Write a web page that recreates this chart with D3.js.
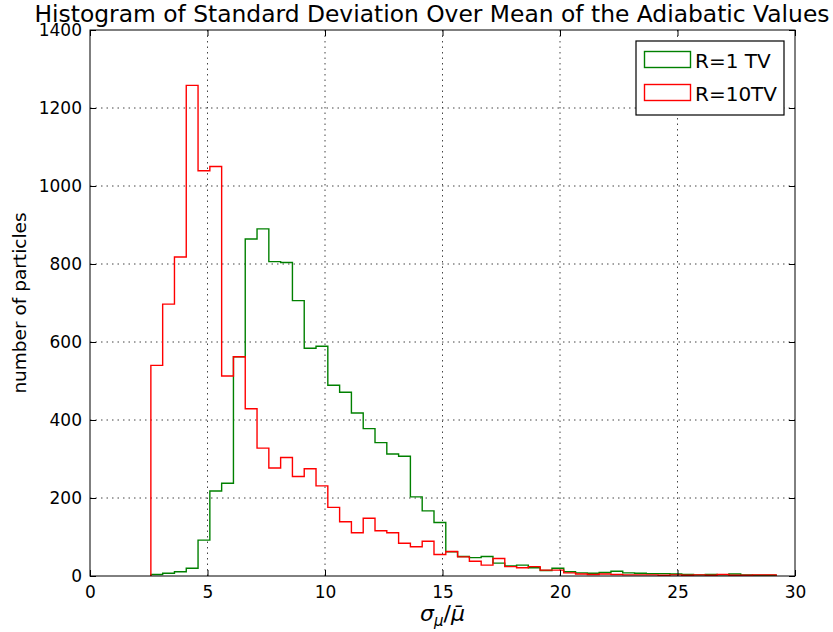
<!DOCTYPE html>
<html>
<head>
<meta charset="utf-8">
<script src="https://cdn.jsdelivr.net/npm/d3@7"></script>
<style>
  body { margin: 0; background: #fff; }
  text { font-family: "DejaVu Sans", sans-serif; }
</style>
</head>
<body>
<div id="chart"></div>
<script>
// histogram bins: left edge of first bin and bin width
const binStart = 2.59
const binWidth = 0.502

// counts per bin, R=1 TV (green)
const countsR1 = [4, 7, 11, 20, 92, 218, 238, 562, 864, 890, 806, 804, 706, 584, 589,
  489, 471, 418, 378, 342, 313, 307, 203, 167, 137, 62, 50, 47, 50, 33, 26, 28, 21, 14,
  20, 11, 8, 7, 9, 12, 8, 7, 6, 6, 5, 4, 3, 4, 3, 5, 3, 2, 2]

// counts per bin, R=10TV (red)
const countsR10 = [540, 697, 818, 1258, 1039, 1050, 513, 562, 429, 328, 277, 304, 255,
  275, 231, 176, 139, 111, 148, 116, 111, 84, 75, 89, 55, 63, 49, 38, 28, 45, 24, 21, 24,
  15, 15, 8, 5, 4, 5, 4, 3, 3, 3, 2, 3, 2, 3, 2, 4, 2, 2, 3, 3]

const seriesNames = ['R=1 TV', 'R=10TV']
const seriesColors = ['#008000', '#ff0000']

const xTicks = [0, 5, 10, 15, 20, 25, 30]
const yTicks = [0, 200, 400, 600, 800, 1000, 1200, 1400]

const margin = { top: 30, right: 38, bottom: 56, left: 90 }
const width = 833 - margin.left - margin.right
const height = 632 - margin.top - margin.bottom

const svg = d3.select('#chart')
  .append('svg')
  .attr('width', 833)
  .attr('height', 632)

const g = svg.append('g')
  .attr('transform', 'translate(' + margin.left + ',' + margin.top + ')')

const x = d3.scaleLinear().domain([0, 30]).range([0, width])
const y = d3.scaleLinear().domain([0, 1400]).range([height, 0])

// grid lines (dotted)
g.append('g')
  .selectAll('line')
  .data(xTicks.slice(1, -1))
  .join('line')
  .attr('x1', d => x(d)).attr('x2', d => x(d))
  .attr('y1', 0).attr('y2', height)
  .attr('stroke', '#444')
  .attr('stroke-dasharray', '1.5,4')

g.append('g')
  .selectAll('line')
  .data(yTicks.slice(1, -1))
  .join('line')
  .attr('y1', d => y(d)).attr('y2', d => y(d))
  .attr('x1', 0).attr('x2', width)
  .attr('stroke', '#444')
  .attr('stroke-dasharray', '1.5,4')

// step outlines
function stepPoints(counts) {
  const pts = [[binStart, 0]]
  counts.forEach((c, i) => {
    const x0 = binStart + i * binWidth
    pts.push([x0, c])
    pts.push([x0 + binWidth, c])
  })
  pts.push([binStart + counts.length * binWidth, 0])
  return pts
}

const line = d3.line().x(d => x(d[0])).y(d => y(d[1]))

;[countsR1, countsR10].forEach((counts, i) => {
  g.append('path')
    .datum(stepPoints(counts))
    .attr('d', line)
    .attr('fill', 'none')
    .attr('stroke', seriesColors[i])
    .attr('stroke-width', 1.4)
    .attr('stroke-linejoin', 'miter')
})

// axes with inward ticks, labels only on bottom/left
const xAxis = d3.axisBottom(x).tickValues(xTicks).tickSize(-6).tickPadding(10)
const yAxis = d3.axisLeft(y).tickValues(yTicks).tickSize(-6).tickPadding(8)
  .tickFormat(d3.format('d'))

g.append('g')
  .attr('class', 'axis x-axis')
  .attr('transform', 'translate(0,' + height + ')')
  .call(xAxis)

g.append('g')
  .attr('class', 'axis y-axis')
  .call(yAxis)

g.append('g')
  .call(d3.axisTop(x).tickValues(xTicks).tickSize(-6).tickFormat(''))

g.append('g')
  .attr('transform', 'translate(' + width + ',0)')
  .call(d3.axisRight(y).tickValues(yTicks).tickSize(-6).tickFormat(''))

g.selectAll('.domain').remove()
g.selectAll('.tick line').attr('stroke', '#000')
g.selectAll('.tick text')
  .attr('fill', '#000')
  .attr('font-size', 17)
  .attr('font-family', 'DejaVu Sans')

// frame
g.append('rect')
  .attr('width', width)
  .attr('height', height)
  .attr('fill', 'none')
  .attr('stroke', '#000')
  .attr('stroke-width', 1)

// title
svg.append('text')
  .attr('x', 432)
  .attr('y', 22)
  .attr('text-anchor', 'middle')
  .attr('font-size', 23)
  .attr('textLength', 795)
  .attr('lengthAdjust', 'spacingAndGlyphs')
  .text('Histogram of Standard Deviation Over Mean of the Adiabatic Values')

// y label
svg.append('text')
  .attr('transform', 'translate(26,' + (margin.top + height / 2) + ') rotate(-90)')
  .attr('text-anchor', 'middle')
  .attr('font-size', 18.5)
  .text('number of particles')

// x label: sigma_mu / mu-bar
const xl = svg.append('text')
  .attr('x', margin.left + width / 2)
  .attr('y', 621)
  .attr('text-anchor', 'middle')
  .attr('font-family', 'DejaVu Serif')
  .attr('font-style', 'italic')
  .attr('font-size', 22)
xl.append('tspan').text('σ')
xl.append('tspan').attr('font-size', 15).attr('dy', 5).text('μ')
xl.append('tspan').attr('dy', -5).attr('font-style', 'normal').text('/')
xl.append('tspan').text('μ̄')

// legend
const legend = svg.append('g').attr('transform', 'translate(636,41)')
legend.append('rect')
  .attr('width', 148)
  .attr('height', 74)
  .attr('fill', '#fff')
  .attr('stroke', '#000')
  .attr('stroke-width', 1.2)

seriesNames.forEach((name, i) => {
  const row = legend.append('g').attr('transform', 'translate(0,' + (i * 33) + ')')
  row.append('rect')
    .attr('x', 8.5)
    .attr('y', 10.5)
    .attr('width', 46)
    .attr('height', 16)
    .attr('fill', 'none')
    .attr('stroke', seriesColors[i])
    .attr('stroke-width', 1.4)
  row.append('text')
    .attr('x', 59)
    .attr('y', 27)
    .attr('font-size', 20)
    .text(name)
})
</script>
</body>
</html>
